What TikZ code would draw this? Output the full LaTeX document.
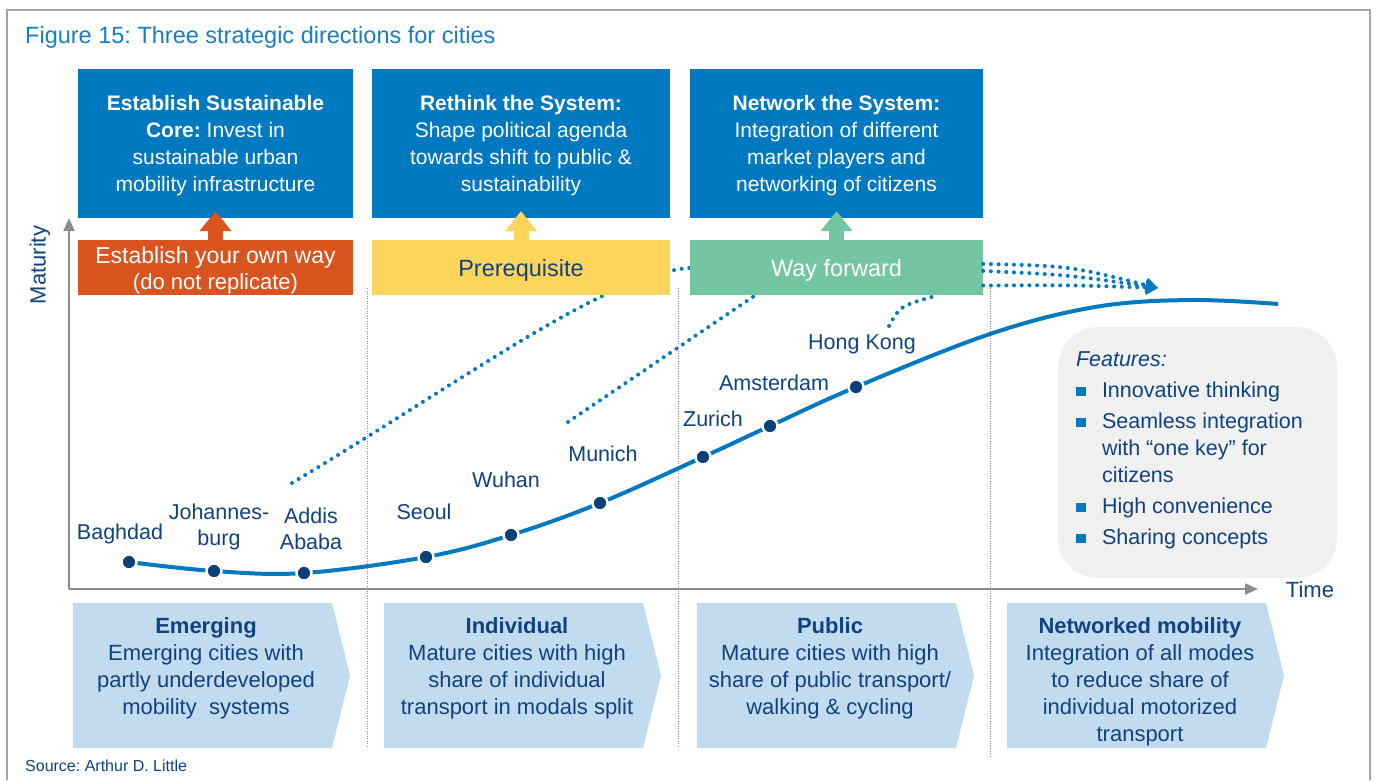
\documentclass[tikz,border=0pt]{standalone}
\usepackage{fontspec}
\setmainfont{Liberation Sans}
\usetikzlibrary{arrows.meta, positioning, calc, backgrounds}

\definecolor{adlblue}{HTML}{0079C1}
\definecolor{titleblue}{HTML}{1A7DC2}
\definecolor{navy}{HTML}{10427F}
\definecolor{adlorange}{HTML}{D9541E}
\definecolor{adlyellow}{HTML}{FDD55B}
\definecolor{adlgreen}{HTML}{74C6A2}
\definecolor{chevfill}{HTML}{C3DBEF}
\definecolor{featgray}{HTML}{F0F0F0}
\definecolor{axisgray}{HTML}{8C8C8C}
\definecolor{dotnavy}{HTML}{0B3F7A}

\tikzset{
  frame/.style={draw=axisgray!80, line width=1.5pt},
  topbox/.style={fill=adlblue, text=white, minimum height=149pt, inner sep=0pt, text depth=0pt,
    align=center, font=\fontsize{21}{27}\selectfont},
  lowbox/.style={minimum height=55pt, inner sep=0pt, text depth=0pt, align=center,
    font=\fontsize{22}{26}\selectfont},
  blockarrow/.style={line width=15pt, -{Triangle[width=31pt,length=20pt]}},
  axisline/.style={axisgray, line width=2pt, -{Triangle[width=11pt,length=13pt]}},
  sepline/.style={axisgray, line width=0.8pt, dash pattern=on 1pt off 1.5pt},
  dotline/.style={adlblue, line width=4pt, line cap=round, dash pattern=on 0pt off 7.7pt},
  curve/.style={adlblue, line width=4pt},
  citydot/.style={circle, fill=dotnavy, draw=white, line width=2.5pt, minimum size=15pt, inner sep=0pt},
  citylabel/.style={text=navy, align=center, inner sep=0pt, font=\fontsize{21.5}{26}\selectfont},
  axislabel/.style={text=navy, inner sep=0pt, font=\fontsize{22}{26}\selectfont},
  featbox/.style={fill=featgray, rounded corners=40pt, minimum width=279pt, minimum height=251pt},
  featlist/.style={text=navy, align=left, inner sep=0pt, font=\fontsize{21.5}{27}\selectfont},
  chevtext/.style={text=navy, align=center, inner sep=0pt, anchor=north, font=\fontsize{22}{27}\selectfont},
}

\begin{document}
\frenchspacing
\begin{tikzpicture}[x=1pt, y=-1pt, >=Stealth]
	\useasboundingbox (0,0) rectangle (1378,780);
	
	% ====== frame, title, source ======
	\draw[frame] (7,780) -- (7,10) -- (1370,10) -- (1370,780);
	\node[anchor=west, text=titleblue, inner sep=0pt, font=\fontsize{23.5}{28}\selectfont] (title) at (25,37)
	{Figure 15: Three strategic directions for cities};
	\node[anchor=west, text=navy, inner sep=0pt, font=\fontsize{16}{20}\selectfont] (source) at (25,766)
	{Source: Arthur D. Little};
	
	% ====== phase separators ======
	\foreach \x/\yb in {367/748, 678/748, 990/758}
	\draw[sepline] (\x,288) -- (\x,\yb);
	
	% ====== axes ======
	\coordinate (O) at (69,589);
	\draw[axisline] (O) -- (69,218);
	\draw[axisline] (O) -- (1258,589);
	\node[axislabel, rotate=90] (maturity) at (40,265) {Maturity};
	\node[axislabel] (time) at (1310,590) {Time};
	
	% ====== strategic directions ======
	\node[topbox, minimum width=275pt] (core) at (215.5,143.5)
	{\textbf{Establish Sustainable}\\ \textbf{Core:} Invest in\\ sustainable urban\\ mobility infrastructure};
	\node[topbox, minimum width=298pt] (rethink) at (521,143.5)
	{\textbf{Rethink the System:}\\ Shape political agenda\\ towards shift to public \&\\ sustainability};
	\node[topbox, minimum width=293pt] (network) at (836.5,143.5)
	{\textbf{Network the System:}\\ Integration of different\\ market players and\\ networking of citizens};
	
	\node[lowbox, fill=adlorange, text=white, minimum width=275pt, below=22pt of core] (own)
	{{\fontsize{23}{26}\selectfont Establish your own way}\\ (do not replicate)};
	\node[lowbox, fill=adlyellow, text=navy, minimum width=298pt, below=22pt of rethink] (prereq)
	{\fontsize{23.5}{26}\selectfont Prerequisite};
	\node[lowbox, fill=adlgreen, text=white, minimum width=293pt, below=22pt of network] (forward)
	{\fontsize{23.5}{26}\selectfont Way forward};
	
	\draw[blockarrow, adlorange] (own.north) -- ($(core.south)+(0,-7)$);
	\draw[blockarrow, adlyellow] (prereq.north) -- ($(rethink.south)+(0,-7)$);
	\draw[blockarrow, adlgreen] (forward.north) -- ($(network.south)+(0,-7)$);
	
	% ====== dotted paths behind the boxes ======
	\coordinate (d1) at (292,483);
	\coordinate (d2) at (568,422);
	\coordinate (d3) at (889,326);
	\coordinate (fwtip) at (1158,288);
	\begin{scope}[on background layer]
		\draw[dotline] (d1) .. controls (480,370) and (605,275) .. (forward.west);
		\draw[dotline] (d2) -- ($(forward.south west)+(65,0)$);
		\draw[dotline] (d3) .. controls (900,306) .. ($(forward.south)+(100,0)$);
	\end{scope}
	
	% ====== way forward arrows ======
	\draw[dotline, -{Triangle[width=14pt,length=12pt]}] ($(forward.east)+(0,-4)$) .. controls (1070,266) .. (fwtip);
	\draw[dotline, -{Triangle[width=14pt,length=12pt]}] ($(forward.east)+(0,3)$) .. controls (1070,275) .. (fwtip);
	\draw[dotline, -{Triangle[width=14pt,length=12pt]}] ($(forward.south east)+(0,-10)$) .. controls (1070,285) .. (fwtip);
	
	% ====== maturity curve with cities ======
	\foreach \nm/\px/\py/\lx/\ly/\txt in {
		bag/129/562/120/534/Baghdad,
		joh/214/571/219/527/{Johannes-\\burg},
		add/304/573/311/528.5/{Addis\\Ababa},
		seo/426/557/424/512/Seoul,
		wuh/511/535/506/480/Wuhan,
		mun/600/503/603/454/Munich,
		zur/703/457/713/419/Zurich,
		ams/770/426/774/383/Amsterdam,
		hkg/856/387/862/344/Hong Kong}
	{
		\coordinate (\nm) at (\px,\py);
		\node[citylabel] (\nm-l) at (\lx,\ly) {\txt};
	}
	\coordinate (c1) at (990,334);
	\coordinate (c2) at (1095,307);
	\coordinate (c3) at (1190,300);
	\coordinate (cend) at (1278,304);
	
	\draw[curve] plot[smooth, tension=0.6] coordinates
	{(bag) (joh) (add) (seo) (wuh) (mun) (zur) (ams) (hkg) (c1) (c2) (c3) (cend)};
	
	\foreach \nm in {bag,joh,add,seo,wuh,mun,zur,ams,hkg}
	\node[citydot] (\nm-dot) at (\nm) {};
	
	% ====== features ======
	\def\fb{\makebox[26pt][l]{\textcolor{adlblue}{\rule[1.5pt]{9.5pt}{9.5pt}}}}
	\node[featbox] (feat) at (1197.5,452.5) {};
	\node[featlist, anchor=north west] (featlist) at ($(feat.north west)+(18,25)$)
	{\textit{Features:}\\[4pt]
		\fb Innovative thinking\\[4pt]
		\fb Seamless integration\\
		\hspace*{26pt}with “one key” for\\
		\hspace*{26pt}citizens\\[4pt]
		\fb High convenience\\[4pt]
		\fb Sharing concepts};
	
	% ====== city types ======
	\foreach \x/\nm/\txt in {
		73/emerging/{\textbf{Emerging}\\ Emerging cities with\\ partly underdeveloped\\ mobility~ systems},
		384/individual/{\textbf{Individual}\\ Mature cities with high\\ share of individual\\ transport in modals split},
		697/public/{\textbf{Public}\\ Mature cities with high\\ share of public transport/\\ walking \& cycling},
		1007/networked/{\textbf{Networked mobility}\\ Integration of all modes\\ to reduce share of\\ individual motorized\\ transport}}
	{
		\fill[chevfill] (\x,603) -- ++(259,0) -- ++(18,72.5) -- ++(-18,72.5) -- ++(-259,0) -- cycle;
		\node[chevtext] (\nm) at ({\x+133},617) {\txt};
	}
\end{tikzpicture}
\end{document}
